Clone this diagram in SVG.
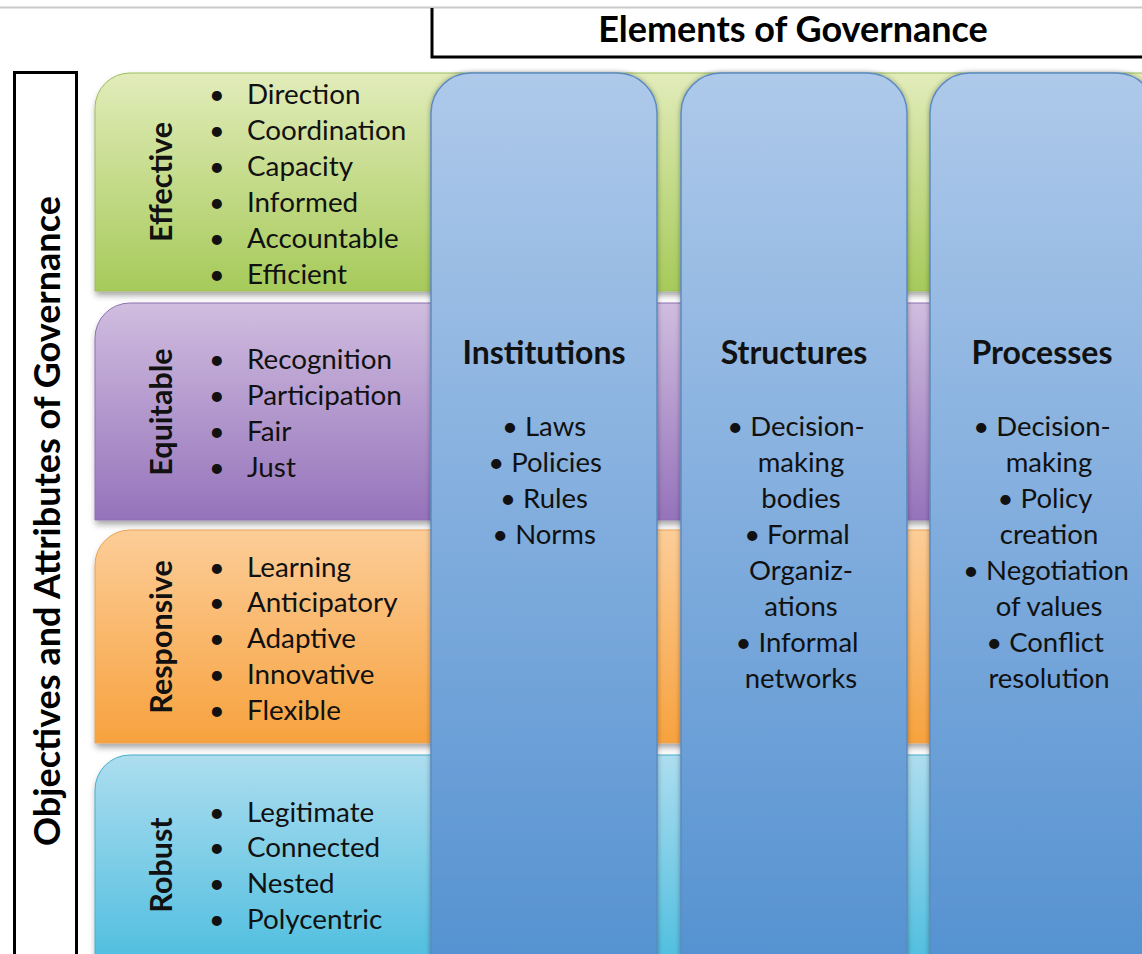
<svg xmlns="http://www.w3.org/2000/svg" width="1142" height="954" viewBox="0 0 1142 954">
  <style>
    .lbl { font-family: Lato, "Open Sans", sans-serif; font-size: 27.8px; fill: #111; }
    .bul { font-family: Lato, "Open Sans", sans-serif; font-size: 27px; fill: #111; }
    .rowt { font-family: Lato, "Open Sans", sans-serif; font-size: 30.5px; font-weight: bold; fill: #111; text-anchor: middle; }
    .colt { font-family: Lato, "Open Sans", sans-serif; font-size: 32px; font-weight: bold; fill: #111; text-anchor: middle; }
    .coli { font-family: Lato, "Open Sans", sans-serif; font-size: 27.5px; fill: #111; text-anchor: middle; }
    .big { font-family: Lato, "Open Sans", sans-serif; font-size: 36px; font-weight: bold; fill: #000; text-anchor: middle; }
  </style>
  <defs>
    <linearGradient id="gGreen" x1="0" y1="0" x2="0" y2="1">
      <stop offset="0" stop-color="#E2ECBA"/>
      <stop offset="1" stop-color="#A6CA5A"/>
    </linearGradient>
    <linearGradient id="gPurple" x1="0" y1="0" x2="0" y2="1">
      <stop offset="0" stop-color="#D0BDDF"/>
      <stop offset="1" stop-color="#9573BB"/>
    </linearGradient>
    <linearGradient id="gOrange" x1="0" y1="0" x2="0" y2="1">
      <stop offset="0" stop-color="#FCCD98"/>
      <stop offset="1" stop-color="#F7A23E"/>
    </linearGradient>
    <linearGradient id="gCyan" x1="0" y1="0" x2="0" y2="1">
      <stop offset="0" stop-color="#ADDDEF"/>
      <stop offset="1" stop-color="#4CBDDF"/>
    </linearGradient>
    <linearGradient id="gBlue" x1="0" y1="0" x2="0" y2="1">
      <stop offset="0" stop-color="#AEC9EA"/>
      <stop offset="1" stop-color="#5290D0"/>
    </linearGradient>
    <filter id="sh" x="-5%" y="-5%" width="115%" height="120%">
      <feDropShadow dx="1" dy="4" stdDeviation="3" flood-color="#000" flood-opacity="0.35"/>
    </filter>
    <filter id="shc" x="-10%" y="-5%" width="120%" height="115%">
      <feDropShadow dx="0" dy="0" stdDeviation="2.5" flood-color="#000" flood-opacity="0.35"/>
    </filter>
  </defs>

  <rect x="0" y="0" width="1142" height="954" fill="#fff"/>
  <line x1="0" y1="7.5" x2="1142" y2="7.5" stroke="#C9C9C9" stroke-width="2"/>

  <g id="header">
    <path d="M432,8 V57 H1145" fill="none" stroke="#000" stroke-width="3"/>
    <text class="big" x="793" y="42">Elements of Governance</text>
  </g>

  <g id="sidebar">
    <rect x="14.5" y="72.5" width="62" height="900" fill="#fff" stroke="#000" stroke-width="3"/>
    <text class="big" transform="translate(60,521) rotate(-90)">Objectives and Attributes of Governance</text>
  </g>

  <g id="row-effective">
    <path d="M95,291 V108 A35,35 0 0 1 130,73 H1150 V291 Z" fill="url(#gGreen)" stroke="#9CBD5A" stroke-width="1" filter="url(#sh)"/>
    <text class="rowt" transform="translate(172,182) rotate(-90)">Effective</text>
    <text class="bul" x="209" y="104">•</text><text class="lbl" x="247" y="104">Direction</text>
    <text class="bul" x="209" y="140">•</text><text class="lbl" x="247" y="140">Coordination</text>
    <text class="bul" x="209" y="176">•</text><text class="lbl" x="247" y="176">Capacity</text>
    <text class="bul" x="209" y="212">•</text><text class="lbl" x="247" y="212">Informed</text>
    <text class="bul" x="209" y="248">•</text><text class="lbl" x="247" y="248">Accountable</text>
    <text class="bul" x="209" y="284">•</text><text class="lbl" x="247" y="284">Efficient</text>
  </g>

  <g id="row-equitable">
    <path d="M95,520 V338 A35,35 0 0 1 130,303 H1150 V520 Z" fill="url(#gPurple)" stroke="#8D71B0" stroke-width="1" filter="url(#sh)"/>
    <text class="rowt" transform="translate(172,412) rotate(-90)">Equitable</text>
    <text class="bul" x="209" y="369">•</text><text class="lbl" x="247" y="369">Recognition</text>
    <text class="bul" x="209" y="405">•</text><text class="lbl" x="247" y="405">Participation</text>
    <text class="bul" x="209" y="441">•</text><text class="lbl" x="247" y="441">Fair</text>
    <text class="bul" x="209" y="477">•</text><text class="lbl" x="247" y="477">Just</text>
  </g>

  <g id="row-responsive">
    <path d="M95,743 V565 A35,35 0 0 1 130,530 H1150 V743 Z" fill="url(#gOrange)" stroke="#E9A352" stroke-width="1" filter="url(#sh)"/>
    <text class="rowt" transform="translate(172,637) rotate(-90)">Responsive</text>
    <text class="bul" x="209" y="577">•</text><text class="lbl" x="247" y="577">Learning</text>
    <text class="bul" x="209" y="612">•</text><text class="lbl" x="247" y="612">Anticipatory</text>
    <text class="bul" x="209" y="648">•</text><text class="lbl" x="247" y="648">Adaptive</text>
    <text class="bul" x="209" y="684">•</text><text class="lbl" x="247" y="684">Innovative</text>
    <text class="bul" x="209" y="720">•</text><text class="lbl" x="247" y="720">Flexible</text>
  </g>

  <g id="row-robust">
    <path d="M95,970 V790 A35,35 0 0 1 130,755 H1150 V970 Z" fill="url(#gCyan)" stroke="#46AFC9" stroke-width="1" filter="url(#sh)"/>
    <text class="rowt" transform="translate(172,865) rotate(-90)">Robust</text>
    <text class="bul" x="209" y="822">•</text><text class="lbl" x="247" y="822">Legitimate</text>
    <text class="bul" x="209" y="857">•</text><text class="lbl" x="247" y="857">Connected</text>
    <text class="bul" x="209" y="893">•</text><text class="lbl" x="247" y="893">Nested</text>
    <text class="bul" x="209" y="929">•</text><text class="lbl" x="247" y="929">Polycentric</text>
  </g>

  <g id="col-institutions">
    <rect x="431" y="73" width="226" height="920" rx="40" ry="40" fill="url(#gBlue)" stroke="#5C8AC2" stroke-width="1.5" filter="url(#shc)"/>
    <text class="colt" x="544" y="364">Institutions</text>
    <text class="coli" x="544" y="436">• Laws</text>
    <text class="coli" x="545" y="472">• Policies</text>
    <text class="coli" x="544" y="508">• Rules</text>
    <text class="coli" x="544" y="544">• Norms</text>
  </g>

  <g id="col-structures">
    <rect x="681" y="73" width="226" height="920" rx="40" ry="40" fill="url(#gBlue)" stroke="#5C8AC2" stroke-width="1.5" filter="url(#shc)"/>
    <text class="colt" x="794" y="364">Structures</text>
    <text class="coli" x="796" y="436">• Decision-</text>
    <text class="coli" x="801" y="472">making</text>
    <text class="coli" x="801" y="508">bodies</text>
    <text class="coli" x="797" y="544">• Formal</text>
    <text class="coli" x="801" y="580">Organiz-</text>
    <text class="coli" x="801" y="616">ations</text>
    <text class="coli" x="797" y="652">• Informal</text>
    <text class="coli" x="801" y="688">networks</text>
  </g>

  <g id="col-processes">
    <rect x="930" y="73" width="226" height="920" rx="40" ry="40" fill="url(#gBlue)" stroke="#5C8AC2" stroke-width="1.5" filter="url(#shc)"/>
    <text class="colt" x="1042" y="364">Processes</text>
    <text class="coli" x="1042" y="436">• Decision-</text>
    <text class="coli" x="1049" y="472">making</text>
    <text class="coli" x="1045" y="508">• Policy</text>
    <text class="coli" x="1049" y="544">creation</text>
    <text class="coli" x="1046" y="580">• Negotiation</text>
    <text class="coli" x="1049" y="616">of values</text>
    <text class="coli" x="1045" y="652">• Conflict</text>
    <text class="coli" x="1049" y="688">resolution</text>
  </g>
</svg>
